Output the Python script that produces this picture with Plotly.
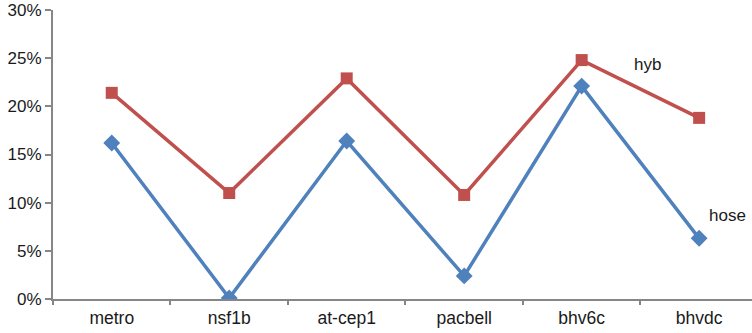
import plotly.graph_objects as go

categories = ["metro", "nsf1b", "at-cep1", "pacbell", "bhv6c", "bhvdc"]
hyb = [21.4, 11.0, 22.9, 10.8, 24.8, 18.8]
hose = [16.2, 0.1, 16.4, 2.4, 22.1, 6.3]
y_ticks = [0, 5, 10, 15, 20, 25, 30]

RED = "#C0504D"
BLUE = "#4F81BD"
AXIS = "#868686"
FONT = "Liberation Sans, Arial, sans-serif"

fig = go.Figure()
fig.add_trace(go.Scatter(
    x=categories, y=hose, mode="lines+markers", name="hose",
    line=dict(color=BLUE, width=3.5),
    marker=dict(symbol="diamond", size=13, color=BLUE),
))
fig.add_trace(go.Scatter(
    x=categories, y=hyb, mode="lines+markers", name="hyb",
    line=dict(color=RED, width=3.5),
    marker=dict(symbol="square", size=12, color=RED),
))

fig.add_annotation(x=4.56, y=24.3, text="hyb", showarrow=False,
                   font=dict(family=FONT, size=17, color="#1a1a1a"))
fig.add_annotation(x=5.24, y=8.7, text="hose", showarrow=False,
                   font=dict(family=FONT, size=17, color="#1a1a1a"))

fig.update_layout(
    width=752, height=333,
    margin=dict(l=53, r=0, t=10, b=34),
    plot_bgcolor="white", paper_bgcolor="white",
    showlegend=False,
    font=dict(family=FONT, size=17, color="#1a1a1a"),
)
fig.update_xaxes(
    type="category", range=[-0.5, 5.45],
    showline=True, linecolor=AXIS, linewidth=2,
    ticks="outside", tickson="boundaries", ticklen=4, tickcolor=AXIS, tickwidth=2,
    ticklabelstandoff=2,
    showgrid=False, zeroline=False,
    tickfont=dict(family=FONT, size=17.5, color="#1a1a1a"),
)
fig.update_yaxes(
    range=[0, 30], tickvals=y_ticks, ticktext=[f"{v}%" for v in y_ticks],
    showline=True, linecolor=AXIS, linewidth=2,
    ticks="outside", ticklen=6, tickcolor=AXIS, tickwidth=2,
    ticklabeloverflow="allow",
    showgrid=False, zeroline=False,
    tickfont=dict(family=FONT, size=17, color="#1a1a1a"),
)

fig.write_html("out.html")
